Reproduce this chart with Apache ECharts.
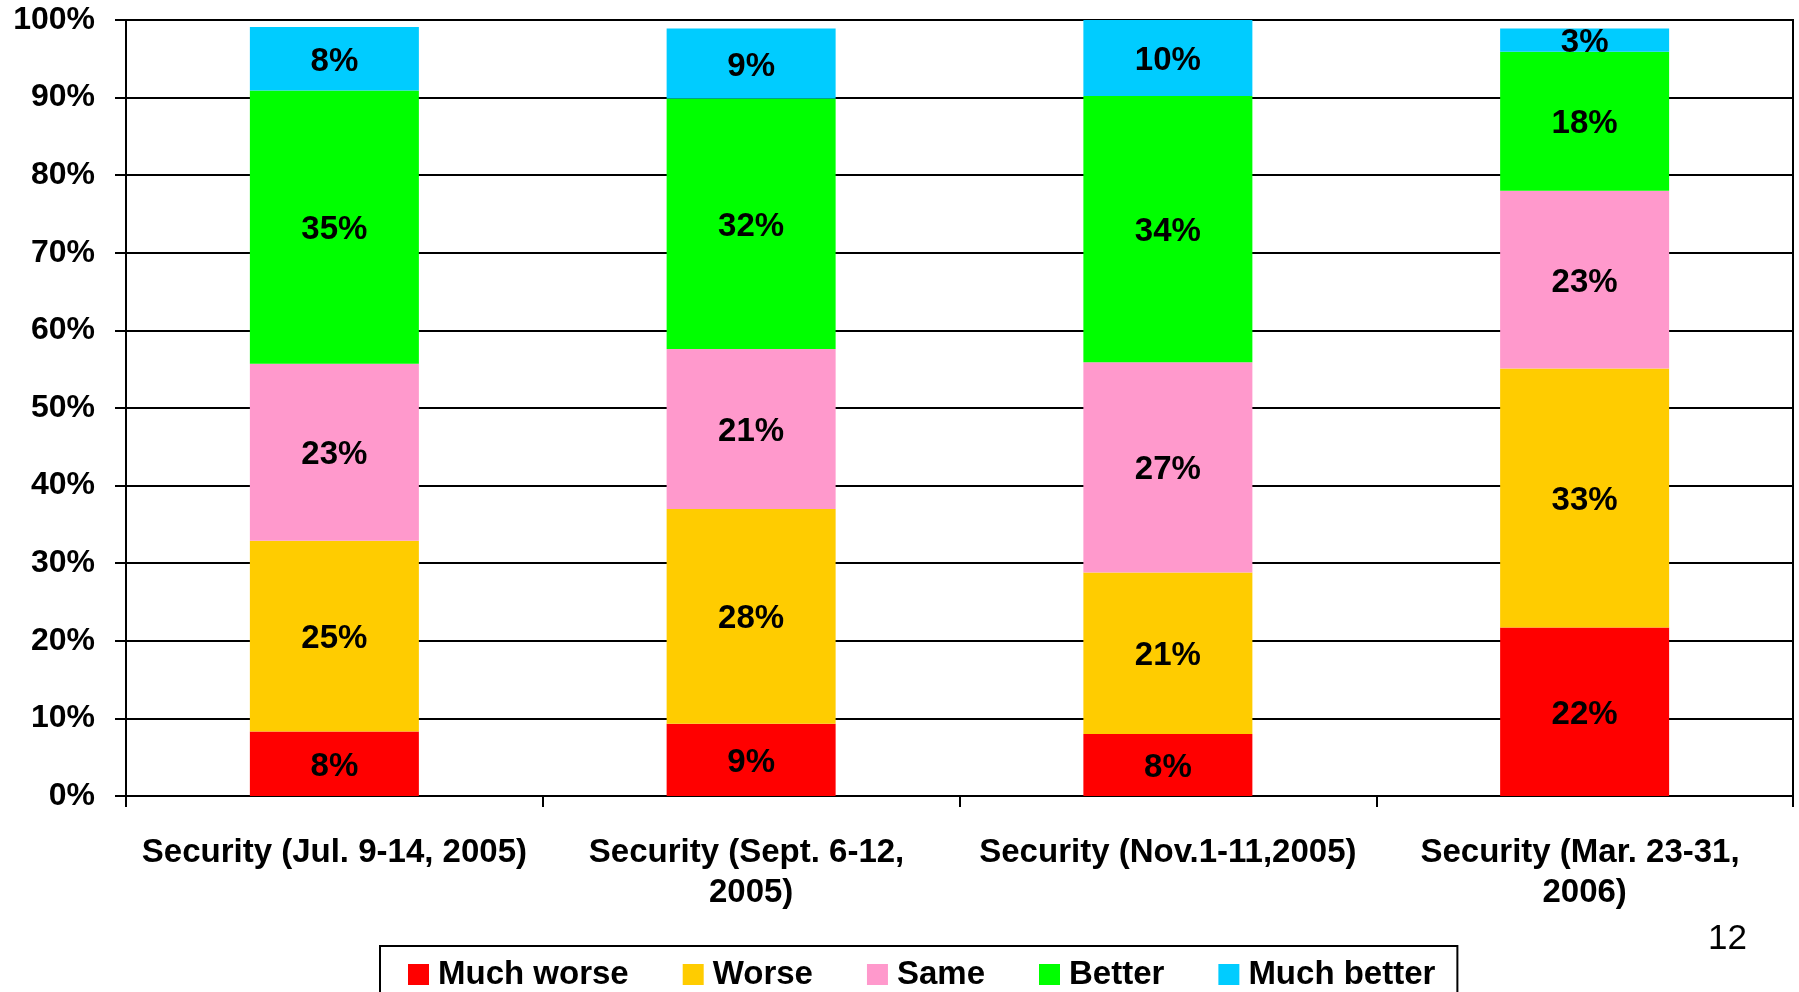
<!DOCTYPE html>
<html>
<head>
<meta charset="utf-8">
<script src="https://cdn.jsdelivr.net/npm/echarts@6/dist/echarts.min.js"></script>
<style>
  html, body { margin: 0; padding: 0; background: #fff; }
  #main { width: 1799px; height: 992px; }
</style>
</head>
<body>
<div id="main"></div>
<script>
const categories = [
  'Security (Jul. 9-14, 2005)',
  'Security (Sept. 6-12, 2005)',
  'Security (Nov.1-11,2005)',
  'Security (Mar. 23-31, 2006)',
];
const muchWorse = [8.3, 9.3, 8.0, 21.7];
const worse = [24.6, 27.7, 20.8, 33.4];
const same = [22.8, 20.6, 27.1, 22.9];
const better = [35.2, 32.3, 34.3, 17.9];
const muchBetter = [8.2, 9.0, 9.8, 3.0];
const yTicks = [0, 10, 20, 30, 40, 50, 60, 70, 80, 90, 100];

const FONT = '"Liberation Sans", Arial, sans-serif';
const dom = document.getElementById('main');
const myChart = echarts.init(dom);

function makeSeries(name, data, color) {
  return {
    name: name,
    type: 'bar',
    stack: 'total',
    barWidth: 169,
    data: data,
    itemStyle: { color: color },
    label: {
      show: true,
      position: 'inside',
      offset: [0, 3],
      formatter: (p) => Math.round(p.value) + '%',
      fontFamily: FONT,
      fontWeight: 'bold',
      fontSize: 33,
      color: '#000',
    },
  };
}

myChart.setOption({
  animation: false,
  backgroundColor: '#fff',
  textStyle: { fontFamily: FONT },
  grid: {
    left: 126,
    right: 6,
    top: 20,
    bottom: 196,
    show: true,
    borderColor: '#000',
    borderWidth: 2,
  },
  legend: {
    left: 380,
    top: 946,
    padding: [12, 22, 20, 28],
    borderColor: '#000',
    borderWidth: 2,
    icon: 'rect',
    itemWidth: 21,
    itemHeight: 21,
    itemGap: 54,
    textStyle: {
      fontFamily: FONT,
      fontWeight: 'bold',
      fontSize: 33,
      lineHeight: 33,
      color: '#000',
      padding: [0, 0, 0, 4],
    },
    data: ['Much worse', 'Worse', 'Same', 'Better', 'Much better'],
  },
  xAxis: {
    type: 'category',
    data: categories,
    boundaryGap: true,
    axisLine: { lineStyle: { color: '#000', width: 2 } },
    axisTick: { show: true, interval: 0, length: 11, lineStyle: { color: '#000', width: 2 } },
    axisLabel: {
      interval: 0,
      margin: 37,
      width: 395,
      overflow: 'break',
      align: 'center',
      fontFamily: FONT,
      fontWeight: 'bold',
      fontSize: 33,
      lineHeight: 40,
      color: '#000',
    },
  },
  yAxis: {
    type: 'value',
    min: yTicks[0],
    max: yTicks[yTicks.length - 1],
    interval: 10,
    axisLine: { show: true, lineStyle: { color: '#000', width: 2 } },
    axisTick: { show: true, length: 11, lineStyle: { color: '#000', width: 2 } },
    splitLine: { show: true, lineStyle: { color: '#000', width: 2 } },
    axisLabel: {
      margin: 31,
      padding: [5, 0, 0, 0],
      formatter: '{value}%',
      fontFamily: FONT,
      fontWeight: 'bold',
      fontSize: 32,
      color: '#000',
    },
  },
  series: [
    makeSeries('Much worse', muchWorse, '#FF0000'),
    makeSeries('Worse', worse, '#FFCC00'),
    makeSeries('Same', same, '#FF99CC'),
    makeSeries('Better', better, '#00FF00'),
    makeSeries('Much better', muchBetter, '#00CCFF'),
  ],
  graphic: [
    {
      type: 'text',
      x: 1708,
      y: 939,
      style: {
        text: '12',
        font: '35px ' + FONT,
        fill: '#000',
        verticalAlign: 'middle',
      },
    },
  ],
});
</script>
</body>
</html>
